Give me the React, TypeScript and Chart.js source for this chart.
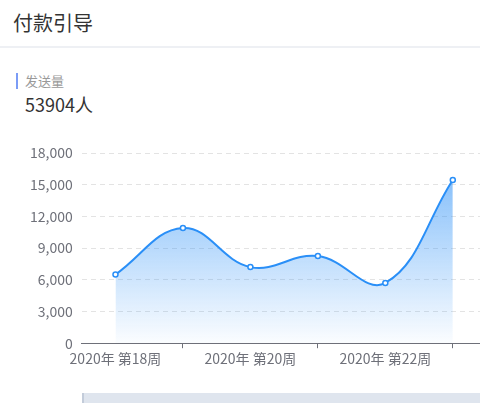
import React, { useRef, useEffect } from "react";
import Chart from "chart.js/auto";

const weeks = [
  "2020年 第18周",
  "2020年 第19周",
  "2020年 第20周",
  "2020年 第21周",
  "2020年 第22周",
  "2020年 第23周",
];
const sendCounts = [6500, 10900, 7200, 8250, 5700, 15450];
const yMax = 18000;
const yStep = 3000;

const FONT = '"Noto Sans CJK SC", "Noto Sans", sans-serif';
const LINE = "#2a8ff7";

const SendChart = () => {
  const chartRef = useRef<HTMLCanvasElement>(null);
  const chartInstance = useRef<Chart | null>(null);

  useEffect(() => {
    if (!chartRef.current) return;
    chartInstance.current = new Chart(chartRef.current, {
      type: "line",
      data: {
        datasets: [
          {
            label: "发送量",
            data: sendCounts.map((v, i) => ({ x: i, y: v })),
            borderColor: LINE,
            borderWidth: 2,
            tension: 0.4,
            fill: "origin",
            backgroundColor: (ctx: any) => {
              const chart = ctx.chart;
              const area = chart.chartArea;
              if (!area) return "rgba(42,143,247,0.3)";
              const top = chart.scales.y.getPixelForValue(Math.max(...sendCounts));
              const g = chart.ctx.createLinearGradient(0, top, 0, area.bottom);
              g.addColorStop(0, "rgba(42,143,247,0.55)");
              g.addColorStop(1, "rgba(42,143,247,0.02)");
              return g;
            },
            pointRadius: 2.5,
            pointBackgroundColor: "#ffffff",
            pointBorderColor: LINE,
            pointBorderWidth: 1.5,
          },
        ],
      },
      options: {
        responsive: true,
        maintainAspectRatio: false,
        animation: false,
        layout: { padding: { top: 33, left: 21, right: 0, bottom: 13 } },
        plugins: {
          legend: { display: false },
          tooltip: { enabled: false },
        },
        scales: {
          x: {
            type: "linear",
            min: -0.5,
            max: 5.47,
            afterBuildTicks: (axis: any) => {
              axis.ticks = weeks.map((_, i) => ({ value: i }));
            },
            ticks: {
              autoSkip: false,
              maxRotation: 0,
              minRotation: 0,
              padding: 2,
              color: "#6e7079",
              font: { family: FONT, size: 14 },
              callback: (v: any) => (Number(v) % 2 === 0 ? weeks[Number(v)] : ""),
            },
            grid: {
              drawOnChartArea: false,
              drawTicks: true,
              tickLength: 5,
              tickColor: (ctx: any) =>
                ctx.tick && ctx.tick.value % 2 === 1 ? "#6e7079" : "rgba(0,0,0,0)",
            },
            border: { display: true, color: "#6e7079", width: 1 },
          },
          y: {
            min: 0,
            max: yMax,
            ticks: {
              stepSize: yStep,
              padding: 9,
              color: "#6e7079",
              font: { family: FONT, size: 14 },
              callback: (v: any) => Number(v).toLocaleString("en-US"),
            },
            grid: {
              color: "#e3e3e3",
              drawTicks: false,
            },
            border: { display: false, dash: [5, 4] },
          },
        },
      },
    });
    return () => {
      chartInstance.current?.destroy();
    };
  }, []);

  return <canvas ref={chartRef} />;
};

export default function App() {
  useEffect(() => {
    document.body.style.margin = "0";
    document.body.style.overflow = "hidden";
  }, []);

  return (
    <div
      style={{
        position: "relative",
        width: 480,
        height: 403,
        overflow: "hidden",
        background: "#fff",
        fontFamily: FONT,
      }}
    >
      <div
        style={{
          position: "absolute",
          left: 13,
          top: 12,
          fontSize: 20,
          lineHeight: "22px",
          color: "#333",
        }}
      >
        付款引导
      </div>
      <div
        style={{
          position: "absolute",
          left: 0,
          top: 46,
          width: 480,
          height: 2,
          background: "#eef0f4",
        }}
      />
      <div
        style={{
          position: "absolute",
          left: 16,
          top: 73,
          width: 2,
          height: 16,
          background: "#7b9cf6",
        }}
      />
      <div
        style={{
          position: "absolute",
          left: 25,
          top: 74,
          fontSize: 13,
          lineHeight: "14px",
          color: "#999",
        }}
      >
        发送量
      </div>
      <div
        style={{
          position: "absolute",
          left: 25,
          top: 94,
          fontSize: 18,
          lineHeight: "20px",
          color: "#333",
        }}
      >
        53904人
      </div>
      <div
        style={{
          position: "absolute",
          left: 0,
          top: 120,
          width: 490,
          height: 262,
        }}
      >
        <SendChart />
      </div>
      <div
        style={{
          position: "absolute",
          left: 82,
          top: 393,
          width: 400,
          height: 12,
          background: "#dfe5ee",
          borderLeft: "2px solid #c3ccda",
        }}
      />
    </div>
  );
}
